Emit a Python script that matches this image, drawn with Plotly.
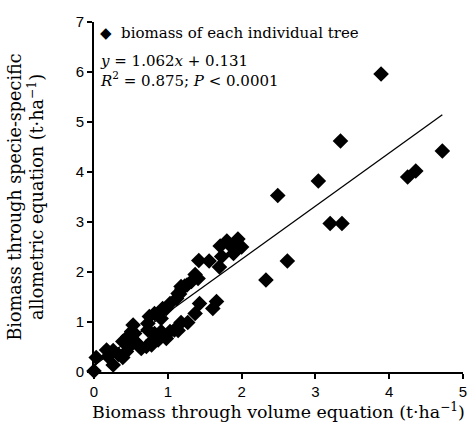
import plotly.graph_objects as go

# Biomass through volume equation (t·ha-1)
x_vol = [0.00, 0.03, 0.17, 0.26, 0.19, 0.26, 0.33, 0.39, 0.44, 0.39,
         0.46, 0.51, 0.53, 0.48, 0.56, 0.55, 0.60, 0.64, 0.71, 0.78,
         0.80, 0.73, 0.73, 0.82, 0.75, 0.91, 0.93, 0.87, 0.98, 1.03,
         1.09, 1.14, 0.91, 0.82, 1.03, 0.98, 1.14, 1.18, 1.23, 1.27,
         1.18, 1.37, 1.43, 1.61, 1.66, 1.32, 1.41, 1.19, 1.26, 1.37,
         1.42, 1.56, 1.70, 1.73, 1.71, 1.80, 1.89, 1.86, 1.95, 2.00,
         1.12, 1.16,
         2.33, 2.49, 2.62, 3.04, 3.20, 3.36, 3.34, 3.89, 4.25, 4.36, 4.72]
# Biomass through specie-specific allometric equation (t·ha-1)
y_allo = [0.02, 0.29, 0.44, 0.43, 0.31, 0.14, 0.35, 0.29, 0.41, 0.61,
          0.71, 0.81, 0.94, 0.51, 0.61, 0.77, 0.54, 0.47, 0.51, 0.54,
          0.64, 0.84, 0.97, 1.17, 1.11, 1.07, 1.27, 0.64, 0.67, 0.81,
          0.84, 0.83, 0.81, 0.77, 1.37, 1.27, 1.57, 1.71, 1.72, 0.99,
          0.99, 1.17, 1.37, 1.27, 1.41, 1.81, 1.87, 1.66, 1.74, 1.95,
          2.23, 2.22, 2.10, 2.31, 2.52, 2.62, 2.37, 2.51, 2.66, 2.50,
          1.47, 1.56,
          1.84, 3.53, 2.22, 3.82, 2.97, 2.97, 4.62, 5.96, 3.90, 4.02, 4.42]

slope = 1.062
intercept = 0.131
x_tick_vals = [0, 1, 2, 3, 4, 5]
y_tick_vals = [0, 1, 2, 3, 4, 5, 6, 7]

line_x = [min(x_vol), max(x_vol)]
line_y = [slope * v + intercept for v in line_x]

serif = "DejaVu Serif"
sans = "Liberation Sans"

fig = go.Figure()
fig.add_trace(go.Scatter(
    x=line_x, y=line_y, mode="lines",
    line=dict(color="black", width=1.3),
    showlegend=False, hoverinfo="skip"))
fig.add_trace(go.Scatter(
    x=x_vol, y=y_allo, mode="markers",
    name="biomass of each individual tree",
    marker=dict(symbol="diamond", size=12, color="black"),
    showlegend=False, cliponaxis=False))

fig.update_layout(
    width=471, height=428,
    margin=dict(l=94, r=8, t=22, b=56, autoexpand=False),
    plot_bgcolor="white", paper_bgcolor="white",
    font=dict(family=sans, color="black"),
)
fig.update_xaxes(
    range=[0, 5], tickvals=x_tick_vals, showgrid=False, zeroline=False,
    showline=True, linecolor="black", linewidth=2, automargin=False,
    ticks="outside", ticklen=5, tickwidth=1.5, tickcolor="black",
    tickfont=dict(family=sans, size=15, color="black"),
    title=dict(text="Biomass through volume equation (t·ha<sup>−1</sup>)",
               font=dict(family=serif, size=17.4, color="black"), standoff=2))
fig.update_yaxes(
    range=[0, 7], tickvals=y_tick_vals, showgrid=False, zeroline=False,
    showline=True, linecolor="black", linewidth=2, automargin=False,
    ticks="outside", ticklen=5, tickwidth=1.5, tickcolor="black",
    tickfont=dict(family=sans, size=15, color="black"),
    title=dict(text="Biomass through specie-specific<br>allometric equation (t·ha<sup>−1</sup>)",
               font=dict(family=serif, size=17.6, color="black"), standoff=27))

fig.add_annotation(
    xref="paper", yref="paper", x=0.012, y=1.0, xanchor="left", yanchor="top",
    align="left", showarrow=False,
    text="◆&nbsp;&nbsp;biomass of each individual tree",
    font=dict(family=serif, size=15, color="black"))
fig.add_annotation(
    xref="paper", yref="paper", x=0.012, y=0.921, xanchor="left", yanchor="top",
    align="left", showarrow=False,
    text="<i>y</i> = 1.062<i>x</i> + 0.131<br><i>R</i><sup>2</sup> = 0.875; <i>P</i> &lt; 0.0001",
    font=dict(family=serif, size=15, color="black"))

fig.write_html("out.html", config={"displayModeBar": False},
               post_script="document.body.style.margin='0';")
